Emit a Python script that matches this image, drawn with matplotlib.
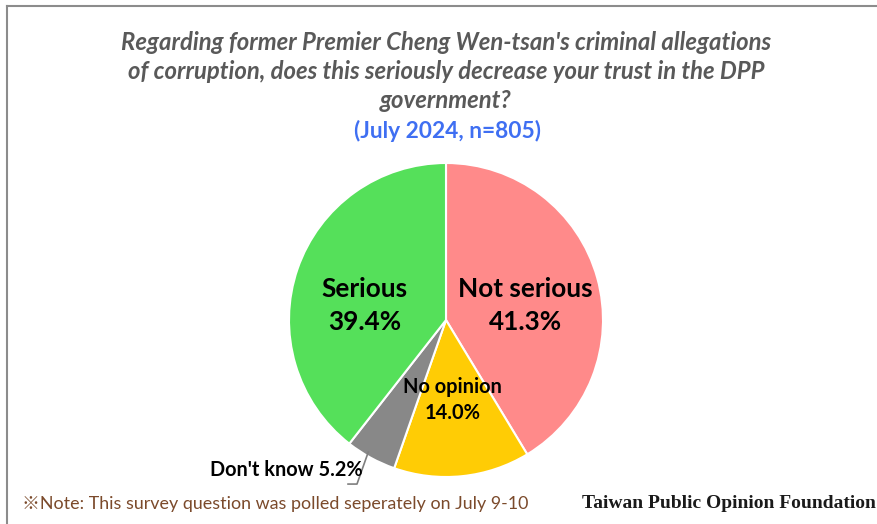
import matplotlib
matplotlib.use("Agg")
import matplotlib.pyplot as plt
import numpy as np

# survey result, clockwise from 12 o'clock
labels = ["Not serious", "No opinion", "Don't know", "Serious"]
shares = [41.3, 14.0, 5.2, 39.4]
colors = ["#ff8a8a", "#ffcc05", "#888888", "#55e05a"]

title = ("Regarding former Premier Cheng Wen-tsan's criminal allegations\n"
         "of corruption, does this seriously decrease your trust in the DPP\n"
         "government?")
subtitle = "(July 2024, n=805)"
note = "\u203bNote: This survey question was polled seperately on July 9-10"
source = "Taiwan Public Opinion Foundation"

W, H = 877, 524
fig = plt.figure(figsize=(W / 100, H / 100), dpi=100)
fig.patch.set_facecolor("white")

# thin grey frame (only top and left edges show)
fig.add_artist(plt.Line2D([7 / W, 7 / W], [0, 1 - 6 / H], color="#8c8c8c", lw=1.5))
fig.add_artist(plt.Line2D([7 / W, 1], [1 - 6 / H, 1 - 6 / H], color="#8c8c8c", lw=1.5))

# pie: centre (446, 320) px, radius 157 px
cx, cy, r = 446, 320, 157
ax = fig.add_axes([(cx - r) / W, (H - cy - r) / H, 2 * r / W, 2 * r / H])
wedges, _ = ax.pie(shares, colors=colors, startangle=90, counterclock=False,
                   radius=1, wedgeprops=dict(edgecolor="white", linewidth=1.5))
ax.set_xlim(-1, 1)
ax.set_ylim(-1, 1)
ax.axis("off")

big = dict(family="Lato", fontweight="bold", fontsize=18.8, ha="center",
           va="center", color="black", linespacing=1.45)
ax.text(0.505, 0.09, f"{labels[0]}\n{shares[0]:.1f}%", **big)
ax.text(-0.52, 0.09, f"{labels[3]}\n{shares[3]:.1f}%", **big)
ax.text(0.04, -0.51, f"{labels[1]}\n{shares[1]:.1f}%", family="Lato",
        fontweight="bold", fontsize=14.4, ha="center", va="center",
        linespacing=1.4)

# leader line for the small grey slice
w = wedges[2]
mid = np.deg2rad((w.theta1 + w.theta2) / 2)
x0, y0 = 0.97 * np.cos(mid), 0.97 * np.sin(mid)
ax.plot([x0 - 0.03, -0.567, -0.624], [y0 + 0.01, -1.045, -1.045],
        color="#7f7f7f", lw=1.2, clip_on=False)
ax.text(-0.53, -0.955, f"{labels[2]} {shares[2]:.1f}%", family="Lato",
        fontweight="bold", fontsize=14.3, ha="right", va="center")

fig.text(446 / W, 1 - 71.5 / H, title, family="Lato", fontstyle="italic",
         fontweight="bold", fontsize=17.2, color="#595959", ha="center",
         va="center", linespacing=1.32)
fig.text(448 / W, 1 - 131 / H, subtitle, family="Lato", fontweight="bold",
         fontsize=16.4, color="#3f6ff2", ha="center", va="center")

fig.text(22 / W, 1 - 504 / H, note, family=["Lato", "Noto Sans CJK JP"],
         fontsize=12.85, color="#7b4a2b", ha="left", va="center")
fig.text(582 / W, 1 - 504 / H, source, family="Liberation Serif",
         fontweight="bold", fontsize=14, color="#1a1a1a", ha="left",
         va="center")

fig.savefig("out.png", dpi=100)
